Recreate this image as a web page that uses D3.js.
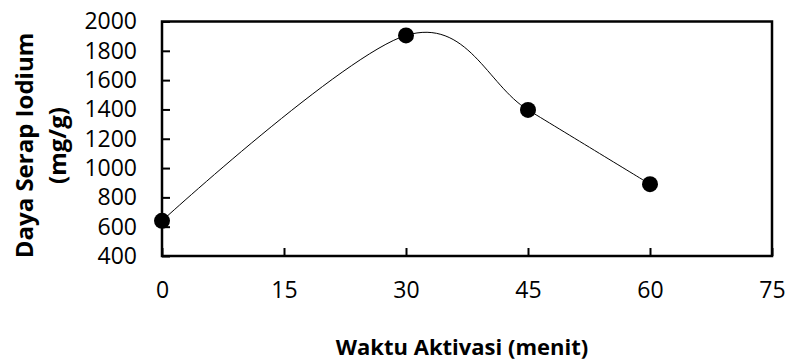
<!DOCTYPE html>
<html>
<head>
<meta charset="utf-8">
<script src="https://cdn.jsdelivr.net/npm/d3@7"></script>
<style>
  body { margin: 0; background: #fff; }
  text { font-family: "Open Sans", sans-serif; fill: #000; }
</style>
</head>
<body>
<svg id="chart" width="787" height="362"></svg>
<script>
// data
const waktu = [0, 30, 45, 60];
const dayaSerap = [640, 1905, 1397, 890];
const xTicks = [0, 15, 30, 45, 60, 75];
const yTicks = [400, 600, 800, 1000, 1200, 1400, 1600, 1800, 2000];

function drawChart() {
    const margin = { top: 21.5, right: 15, bottom: 106, left: 162 },
          width = 787 - margin.left - margin.right,
          height = 362 - margin.top - margin.bottom;

    const svg = d3.select("#chart").append("g")
        .attr("transform", `translate(${margin.left},${margin.top})`);

    const x = d3.scaleLinear().domain([0, 75]).range([0, width]);
    const y = d3.scaleLinear().domain([400, 2000]).range([height, 0]);

    // ticks pointing inward like excel
    const xAxis = d3.axisBottom(x).tickValues(xTicks).tickSize(-8).tickPadding(26).tickFormat(d3.format("d"));
    const yAxis = d3.axisLeft(y).tickValues(yTicks).tickSize(-8).tickPadding(25).tickFormat(d3.format("d"));

    const gx = svg.append("g")
        .attr("transform", `translate(0,${height})`)
        .call(xAxis);
    const gy = svg.append("g").call(yAxis);

    [gx, gy].forEach(g => {
        g.select(".domain").remove();
        g.selectAll("line").attr("stroke", "#000").attr("stroke-width", 2);
        g.selectAll("text").style("font-size", "23px");
    });

    // frame
    svg.append("rect")
        .attr("width", width)
        .attr("height", height)
        .attr("fill", "none")
        .attr("stroke", "#000")
        .attr("stroke-width", 2.5);

    const pts = waktu.map((t, i) => ({ t: t, v: dayaSerap[i] }));

    const line = d3.line()
        .x(d => x(d.t))
        .y(d => y(d.v))
        .curve(d3.curveCardinal.tension(0));

    svg.append("path")
        .datum(pts)
        .attr("d", line)
        .attr("fill", "none")
        .attr("stroke", "#000")
        .attr("stroke-width", 1);

    svg.selectAll("circle")
        .data(pts)
        .enter().append("circle")
        .attr("cx", d => x(d.t))
        .attr("cy", d => y(d.v))
        .attr("r", 8)
        .attr("fill", "#000");

    // axis titles
    svg.append("text")
        .attr("x", width / 2 - 5)
        .attr("y", 355 - margin.top)
        .attr("text-anchor", "middle")
        .style("font-size", "22px")
        .style("font-weight", "bold")
        .text("Waktu Aktivasi (menit)");

    const ylab = svg.append("text")
        .attr("transform", `translate(${-margin.left + 33},${145.5 - margin.top}) rotate(-90)`)
        .attr("text-anchor", "middle")
        .style("font-size", "24px")
        .style("font-weight", "bold");
    ylab.append("tspan").attr("x", 0).attr("dy", 0).text("Daya Serap Iodium");
    ylab.append("tspan").attr("x", 0).attr("dy", 33).text("(mg/g)");
}

drawChart();
</script>
</body>
</html>
